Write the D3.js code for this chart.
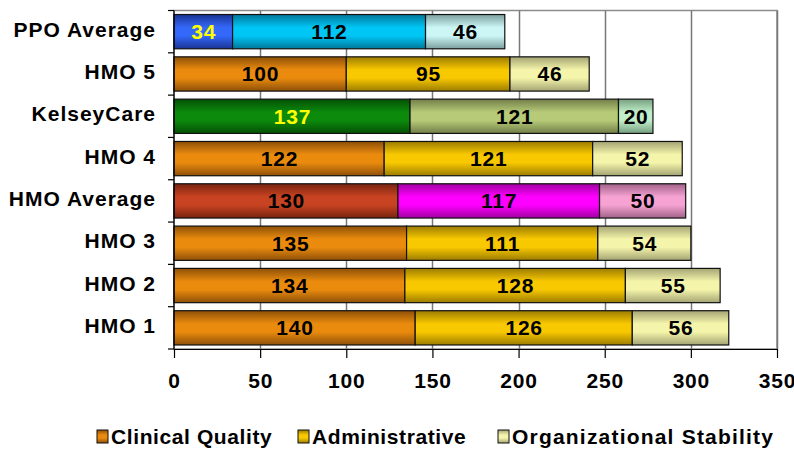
<!DOCTYPE html>
<html>
<head>
<meta charset="utf-8">
<script src="https://cdn.jsdelivr.net/npm/d3@7"></script>
<style>
  body { margin: 0; background: #fff; }
  text { font-family: "Liberation Sans", Arial, sans-serif; font-weight: bold; font-size: 21px; letter-spacing: 0.8px; }
</style>
</head>
<body>
<div id="chart"></div>
<script>
var categories = ["PPO Average", "HMO 5", "KelseyCare", "HMO 4", "HMO Average", "HMO 3", "HMO 2", "HMO 1"];
var clinical = [34, 100, 137, 122, 130, 135, 134, 140];
var administrative = [112, 95, 121, 121, 117, 111, 128, 126];
var stability = [46, 46, 20, 52, 50, 54, 55, 56];
var seriesNames = ["Clinical Quality", "Administrative", "Organizational Stability"];
var xTicks = [0, 50, 100, 150, 200, 250, 300, 350];

// colour pairs [light, dark] per series, with a few rows that get their own set
var defaultColors = [["#EA8B0E", "#8E5008"], ["#F8C800", "#9C7C00"], ["#F4F4AA", "#A4A474"]];
var rowColors = {
  "PPO Average": [["#3468FA", "#1A3494"], ["#00C6F6", "#00789A"], ["#CCF6F6", "#7C9E9E"]],
  "KelseyCare": [["#0C8A0C", "#045004"], ["#B6CA78", "#727E48"], ["#C0EEC8", "#76A080"]],
  "HMO Average": [["#C84322", "#782410"], ["#FF00FF", "#A000A0"], ["#F6A2D2", "#A06288"]]
};
var yellowLabels = { "PPO Average": true, "KelseyCare": true };

var width = 794, height = 449;

var svg = d3.select("#chart").append("svg")
    .attr("width", width)
    .attr("height", height);

var defs = svg.append("defs");
var gradId = 0;
function gradient(pair) {
  var id = "g" + (gradId++);
  var g = defs.append("linearGradient")
      .attr("id", id)
      .attr("x1", 0).attr("y1", 0).attr("x2", 0).attr("y2", 1);
  g.append("stop").attr("offset", 0).attr("stop-color", pair[1]);
  g.append("stop").attr("offset", 0.38).attr("stop-color", pair[0]);
  g.append("stop").attr("offset", 0.62).attr("stop-color", pair[0]);
  g.append("stop").attr("offset", 1).attr("stop-color", pair[1]);
  return "url(#" + id + ")";
}

var plotLeft = 174, plotRight = 777, plotTop = 10.5, plotBottom = 349;

var x = d3.scaleLinear().domain([0, 350]).range([plotLeft, plotRight]);
var y = d3.scaleBand().domain(categories).range([plotTop, plotBottom])
    .paddingInner(0.19).paddingOuter(0.095);

// plot frame
svg.append("rect")
    .attr("x", plotLeft).attr("y", plotTop)
    .attr("width", plotRight - plotLeft).attr("height", plotBottom - plotTop)
    .attr("fill", "none")
    .attr("stroke", "#8c8c8c")
    .attr("stroke-width", 1.5);

// gridlines
svg.selectAll(".grid")
    .data(xTicks.slice(1))
    .enter().append("line")
    .attr("x1", function(d) { return Math.round(x(d)) + 0.5; })
    .attr("x2", function(d) { return Math.round(x(d)) + 0.5; })
    .attr("y1", plotTop).attr("y2", plotBottom)
    .attr("stroke", "#777")
    .attr("stroke-width", 1.5);

// stacked bars
var rows = categories.map(function(c, i) {
  var vals = [clinical[i], administrative[i], stability[i]];
  var cols = rowColors[c] || defaultColors;
  var start = 0;
  return vals.map(function(v, j) {
    var seg = { cat: c, series: j, x0: start, x1: start + v, value: v, fill: gradient(cols[j]) };
    start += v;
    return seg;
  });
});

var segs = svg.selectAll(".seg")
    .data(d3.merge(rows))
    .enter().append("g");

segs.append("rect")
    .attr("x", function(d) { return x(d.x0); })
    .attr("y", function(d) { return y(d.cat); })
    .attr("width", function(d) { return x(d.x1) - x(d.x0); })
    .attr("height", y.bandwidth())
    .attr("fill", function(d) { return d.fill; })
    .attr("stroke", "#111")
    .attr("stroke-width", 1.2);

segs.append("text")
    .attr("x", function(d) { return (x(d.x0) + x(d.x1)) / 2 + 0.4; })
    .attr("y", function(d) { return y(d.cat) + y.bandwidth() / 2 + 7.5; })
    .attr("text-anchor", "middle")
    .attr("fill", function(d) { return (d.series == 0 && yellowLabels[d.cat]) ? "#FFFF00" : "#000"; })
    .text(function(d) { return d.value; });

// left axis
svg.append("line")
    .attr("x1", plotLeft).attr("x2", plotLeft).attr("y1", plotTop).attr("y2", plotBottom)
    .attr("stroke", "#000").attr("stroke-width", 1.2);
var bounds = d3.range(categories.length + 1).map(function(i) { return plotTop + i * y.step(); });
svg.selectAll(".ytick")
    .data(bounds)
    .enter().append("line")
    .attr("x1", plotLeft - 6).attr("x2", plotLeft)
    .attr("y1", function(d) { return d; }).attr("y2", function(d) { return d; })
    .attr("stroke", "#000").attr("stroke-width", 1.2);
svg.selectAll(".ylab")
    .data(categories)
    .enter().append("text")
    .attr("x", 156)
    .attr("y", function(d) { return y(d) + y.bandwidth() / 2 + 5; })
    .attr("text-anchor", "end")
    .style("letter-spacing", "1px")
    .text(function(d) { return d; });

// bottom axis
var xAxis = svg.append("g")
    .attr("transform", "translate(0," + plotBottom + ")")
    .call(d3.axisBottom(x).tickValues(xTicks).tickSize(9).tickPadding(15).tickSizeOuter(0));
xAxis.select(".domain").attr("stroke", "#000").attr("stroke-width", 1.2);
xAxis.selectAll(".tick line").attr("stroke", "#000").attr("stroke-width", 1.2);
xAxis.selectAll(".tick text")
    .attr("fill", "#000")
    .style("font-size", "21px")
    .style("font-family", "'Liberation Sans', Arial, sans-serif");

// legend
var legendX = [97, 298, 498];
var legend = svg.selectAll(".legend")
    .data(seriesNames)
    .enter().append("g")
    .attr("transform", function(d, i) { return "translate(" + legendX[i] + ",430)"; });
legend.append("rect")
    .attr("width", 11).attr("height", 13)
    .attr("fill", function(d, i) { return gradient(defaultColors[i]); })
    .attr("stroke", "#111");
legend.append("text")
    .attr("x", 14).attr("y", 14)
    .style("letter-spacing", function(d, i) { return i == 2 ? "1.2px" : "0.6px"; })
    .text(function(d) { return d; });
</script>
</body>
</html>
